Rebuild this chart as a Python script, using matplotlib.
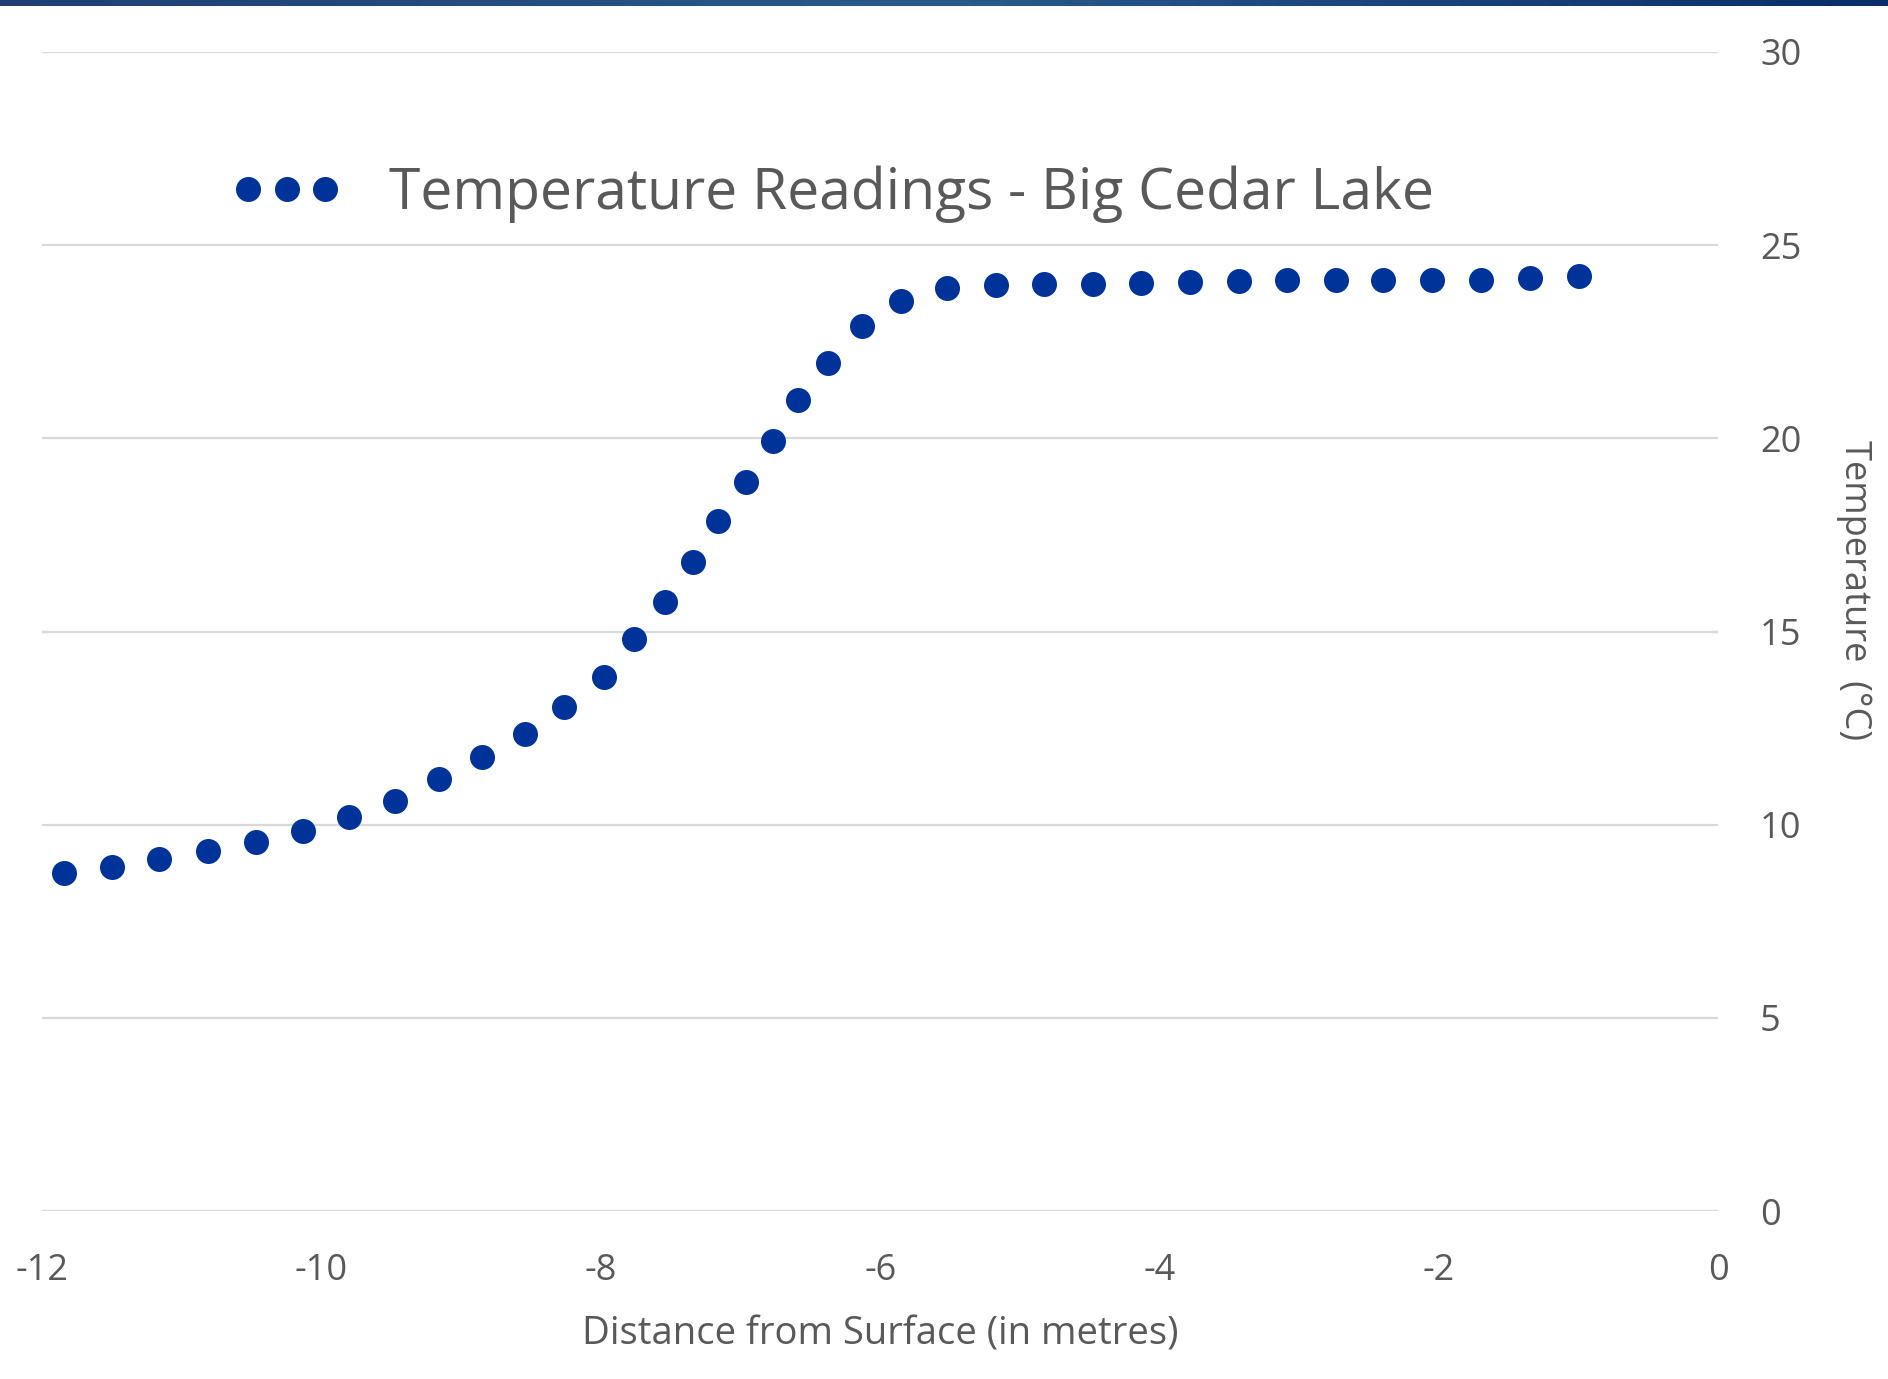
import numpy as np
import matplotlib.pyplot as plt

# depth below surface (m) and water temperature (deg C)
depth = [-11.84, -11.50, -11.16, -10.81, -10.47, -10.13, -9.80, -9.47, -9.16,
         -8.85, -8.54, -8.26, -7.98, -7.76, -7.54, -7.34, -7.16, -6.96, -6.77,
         -6.59, -6.37, -6.13, -5.85, -5.52, -5.17, -4.83, -4.48, -4.13, -3.78,
         -3.43, -3.09, -2.74, -2.40, -2.05, -1.70, -1.35, -1.00]
temp = [8.75, 8.91, 9.10, 9.31, 9.56, 9.84, 10.19, 10.62, 11.18, 11.74, 12.34,
        13.05, 13.83, 14.80, 15.76, 16.79, 17.85, 18.88, 19.94, 21.00, 21.96,
        22.90, 23.55, 23.89, 23.96, 23.99, 23.99, 24.02, 24.05, 24.08, 24.11,
        24.11, 24.11, 24.11, 24.11, 24.14, 24.21]
x_ticks = [-12, -10, -8, -6, -4, -2, 0]
y_ticks = [0, 5, 10, 15, 20, 25, 30]
series_name = 'Temperature Readings - Big Cedar Lake'

BLUE = '#003399'
GREY = '#595959'
GRID = '#d9d9d9'

plt.rcParams['font.family'] = ['Open Sans', 'DejaVu Sans']

fig = plt.figure(figsize=(18.88, 13.79), dpi=100)
ax = fig.add_axes([0.0222, 0.1218, 0.888, 0.8405])

ax.plot(depth, temp, linestyle='none', marker='o', markersize=18,
        color=BLUE, markeredgewidth=0, label=series_name)

ax.set_xlim(-12, 0)
ax.set_ylim(0, 30)
ax.set_xticks(x_ticks)
ax.set_yticks(y_ticks)
ax.set_xticklabels([str(v) for v in x_ticks])
ax.yaxis.tick_right()
ax.yaxis.set_label_position('right')
ax.tick_params(axis='both', length=0, labelsize=26, labelcolor=GREY)
ax.tick_params(axis='y', pad=30)
ax.tick_params(axis='x', pad=30)
for s in ax.spines.values():
  s.set_visible(False)
ax.grid(axis='y', color=GRID, linewidth=1.6)
ax.set_axisbelow(True)

ax.set_xlabel('Distance from Surface (in metres)', fontsize=27.5, color=GREY,
              labelpad=19)
ax.set_ylabel('Temperature  (\u00b0C)', fontsize=26, color=GREY,
              rotation=270, ha='center', va='center')
ax.yaxis.set_label_coords(1.081, 0.536)

leg = ax.legend(loc='center left', bbox_to_anchor=(0.0953, 0.859),
                bbox_transform=fig.transFigure, frameon=False, numpoints=3,
                handlelength=1.95, handletextpad=0.82, fontsize=41)
for t in leg.get_texts():
  t.set_color(GREY)

# dark blue strip along the top edge
top = fig.add_axes([0, 1 - 6 / 1379, 1, 6 / 1379])
grad = np.linspace(0, 1, 256).reshape(1, -1)
top.imshow(grad, aspect='auto', cmap=plt.matplotlib.colors.LinearSegmentedColormap.from_list(
  'bar', ['#1f3f73', '#2a5a8c', '#0b2d6b']))
top.axis('off')

fig.savefig('out.png', dpi=100)
